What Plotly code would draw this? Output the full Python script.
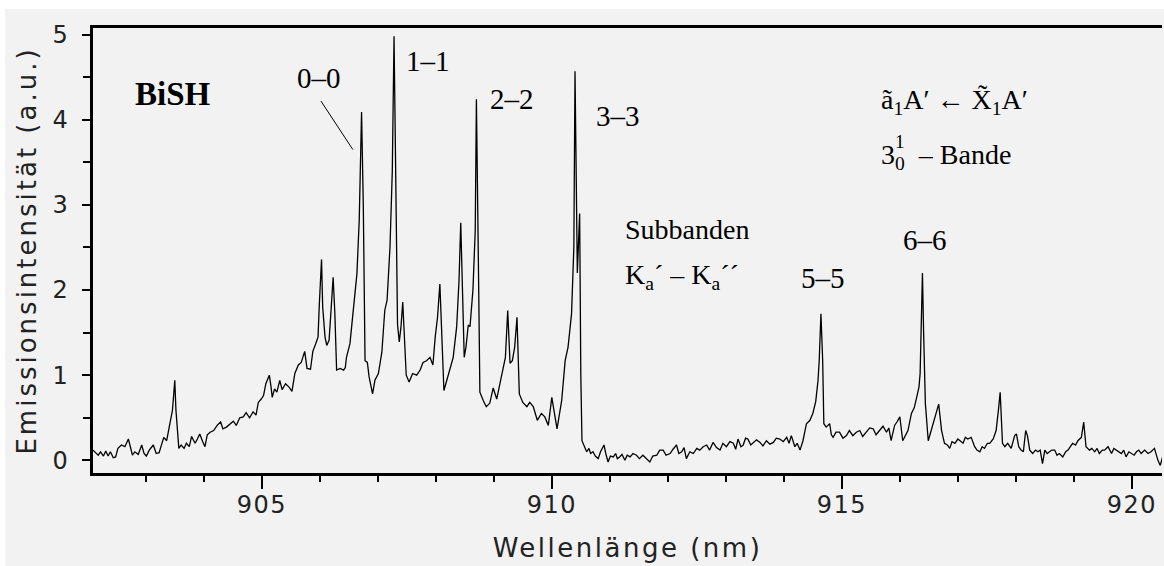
import plotly.graph_objects as go

# wavelength (nm) and emission intensity (a.u.)
wl_blue = [
    902.09, 902.14, 902.18, 902.22, 902.27, 902.31, 902.35, 902.39, 902.44, 902.48,
    902.52, 902.58, 902.64, 902.70, 902.74, 902.77, 902.81, 902.87, 902.93, 902.97,
    903.01, 903.06, 903.13, 903.18, 903.23, 903.27, 903.31, 903.36, 903.41, 903.46,
    903.48, 903.50, 903.52, 903.55, 903.57, 903.61, 903.66, 903.70, 903.75, 903.79,
    903.85, 903.89, 903.93, 903.98, 904.02, 904.06, 904.11, 904.17, 904.23, 904.29,
    904.33, 904.39, 904.45, 904.51, 904.56, 904.62, 904.68, 904.73, 904.79, 904.85,
    904.90, 904.94, 904.99, 905.03, 905.07, 905.13, 905.16, 905.18, 905.22, 905.26,
    905.31, 905.35, 905.41, 905.47, 905.52, 905.57, 905.63, 905.68, 905.74, 905.78,
    905.84, 905.88, 905.93,
]
int_blue = [
    0.12, 0.08, 0.06, 0.10, 0.05, 0.11, 0.05, 0.10, 0.03, 0.04,
    0.14, 0.18, 0.16, 0.25, 0.12, 0.06, 0.10, 0.07, 0.18, 0.08,
    0.05, 0.12, 0.18, 0.08, 0.09, 0.18, 0.27, 0.23, 0.39, 0.59,
    0.76, 0.94, 0.59, 0.23, 0.14, 0.18, 0.14, 0.20, 0.16, 0.28,
    0.20, 0.25, 0.31, 0.22, 0.16, 0.30, 0.33, 0.35, 0.41, 0.45,
    0.37, 0.39, 0.43, 0.46, 0.41, 0.50, 0.51, 0.56, 0.50, 0.57,
    0.53, 0.68, 0.72, 0.76, 0.90, 1.00, 0.86, 0.74, 0.84, 0.80,
    0.94, 0.83, 0.90, 0.86, 0.81, 1.02, 1.12, 1.15, 1.28, 1.08,
    1.07, 1.28, 1.37,
]

wl_bands = [
    905.97, 905.99, 906.03, 906.05, 906.09, 906.12, 906.16, 906.19, 906.23, 906.26,
    906.29, 906.35, 906.41, 906.44, 906.46, 906.52, 906.58, 906.64, 906.68, 906.71,
    906.72, 906.75, 906.78, 906.82, 906.85, 906.91, 906.95, 907.01, 907.07, 907.12,
    907.16, 907.21, 907.25, 907.28, 907.31, 907.34, 907.37, 907.40, 907.43, 907.46,
    907.49, 907.54, 907.60, 907.67, 907.73, 907.78, 907.84, 907.90, 907.95, 907.99,
    908.03, 908.07, 908.11, 908.14, 908.19, 908.24, 908.30, 908.36, 908.40, 908.43,
    908.46, 908.49, 908.52, 908.56, 908.59, 908.64, 908.68, 908.70, 908.74, 908.76,
    908.82, 908.87, 908.93, 908.99, 909.05, 909.11, 909.16, 909.20, 909.24, 909.28,
    909.32, 909.36, 909.40, 909.44, 909.50, 909.57, 909.62, 909.68, 909.75, 909.82,
    909.88, 909.94, 910.00, 910.04, 910.09, 910.17, 910.23, 910.28, 910.34, 910.38,
    910.40, 910.44, 910.48, 910.50, 910.52,
]
int_bands = [
    1.45, 1.80, 2.36, 1.80, 1.45, 1.35, 1.41, 1.72, 2.15, 1.72,
    1.06, 1.08, 1.06, 1.09, 1.21, 1.37, 1.74, 2.19, 2.82, 3.60,
    4.09, 3.00, 1.17, 1.15, 0.98, 0.78, 0.94, 1.02, 1.27, 1.76,
    1.88, 2.50, 3.40, 4.98, 3.20, 1.60, 1.39, 1.57, 1.86, 1.41,
    1.00, 0.92, 1.02, 1.00, 1.06, 1.15, 1.17, 1.21, 1.12, 1.45,
    1.68, 2.07, 1.33, 0.82, 0.94, 1.06, 1.21, 1.57, 2.11, 2.79,
    1.92, 1.21, 1.33, 1.59, 1.57, 2.00, 2.70, 4.24, 2.00, 0.80,
    0.70, 0.63, 0.67, 0.85, 0.72, 0.92, 1.08, 1.21, 1.76, 1.14,
    1.17, 1.33, 1.68, 0.78, 0.68, 0.63, 0.68, 0.63, 0.47, 0.55,
    0.51, 0.41, 0.74, 0.59, 0.37, 0.70, 1.17, 1.33, 1.72, 2.50,
    4.57, 2.20, 2.90, 1.00, 0.23,
]

wl_gap = [
    910.60, 910.64, 910.67, 910.71, 910.75, 910.80, 910.84, 910.90, 910.93, 910.97,
    911.01, 911.06, 911.10, 911.13, 911.17, 911.21, 911.26, 911.30, 911.35, 911.40,
    911.46, 911.51, 911.57, 911.62, 911.69, 911.74, 911.81, 911.86, 911.92, 911.97,
    912.04, 912.09, 912.15, 912.19, 912.24, 912.28, 912.32, 912.38, 912.44, 912.50,
    912.55, 912.61, 912.67, 912.72, 912.78, 912.84, 912.90, 912.95, 913.01, 913.07,
    913.13, 913.17, 913.21, 913.26, 913.30, 913.34, 913.38, 913.43, 913.47, 913.53,
    913.59, 913.64, 913.70, 913.76, 913.82, 913.87, 913.93, 913.99,
]
int_gap = [
    0.10, 0.14, 0.08, 0.10, 0.05, 0.02, 0.10, 0.18, 0.08, -0.02,
    0.05, 0.04, 0.08, 0.02, 0.04, 0.07, 0.00, 0.06, 0.04, 0.08,
    0.06, 0.02, 0.06, 0.03, -0.02, 0.05, 0.06, 0.12, 0.12, 0.06,
    0.08, 0.13, 0.18, 0.08, 0.10, 0.15, 0.02, 0.10, 0.08, 0.14,
    0.12, 0.16, 0.18, 0.12, 0.21, 0.15, 0.12, 0.20, 0.16, 0.22,
    0.20, 0.13, 0.25, 0.16, 0.18, 0.26, 0.25, 0.18, 0.20, 0.24,
    0.21, 0.17, 0.23, 0.19, 0.21, 0.26, 0.25, 0.22,
]

wl_red = [
    914.05, 914.09, 914.13, 914.16, 914.19, 914.23, 914.28, 914.33, 914.39, 914.45,
    914.50, 914.55, 914.59, 914.61, 914.64, 914.67, 914.69, 914.73, 914.79, 914.82,
    914.85, 914.90, 914.96, 915.02, 915.08, 915.13, 915.19, 915.25, 915.31, 915.36,
    915.42, 915.48, 915.54, 915.59, 915.65, 915.71, 915.77, 915.81, 915.85, 915.91,
    915.95, 916.00, 916.05, 916.10, 916.14, 916.20, 916.25, 916.29, 916.33, 916.35,
    916.37, 916.39, 916.41, 916.44, 916.49, 916.54, 916.60, 916.67, 916.72, 916.77,
    916.82, 916.86, 916.90, 916.95, 917.00, 917.03, 917.09, 917.13, 917.17, 917.23,
    917.29, 917.33, 917.38, 917.42, 917.46, 917.51, 917.55, 917.61, 917.66, 917.70,
    917.73, 917.77, 917.81, 917.86, 917.92, 917.98, 918.01, 918.05, 918.09, 918.13,
    918.17, 918.20, 918.24, 918.29, 918.34, 918.38, 918.42, 918.46, 918.50, 918.54,
    918.58, 918.62, 918.67, 918.71, 918.75, 918.81, 918.86, 918.90, 918.94, 918.98,
    919.03, 919.07, 919.13, 919.17, 919.21, 919.27, 919.31, 919.36, 919.40, 919.44,
    919.49, 919.53, 919.59, 919.65, 919.69, 919.73, 919.78, 919.82, 919.86, 919.90,
    919.95, 919.99, 920.04, 920.08, 920.12, 920.16, 920.22, 920.28, 920.33, 920.39,
    920.45, 920.49, 920.53,
]
int_red = [
    0.27, 0.20, 0.29, 0.22, 0.16, 0.20, 0.12, 0.23, 0.43, 0.47,
    0.55, 0.69, 0.94, 1.17, 1.72, 1.17, 0.43, 0.39, 0.43, 0.30,
    0.27, 0.33, 0.33, 0.26, 0.29, 0.35, 0.29, 0.33, 0.35, 0.28,
    0.33, 0.38, 0.37, 0.30, 0.35, 0.40, 0.33, 0.38, 0.23, 0.41,
    0.45, 0.51, 0.23, 0.30, 0.35, 0.55, 0.62, 0.74, 0.86, 1.02,
    1.50, 2.20, 1.50, 0.67, 0.23, 0.35, 0.47, 0.66, 0.35, 0.20,
    0.18, 0.14, 0.22, 0.20, 0.25, 0.23, 0.20, 0.27, 0.25, 0.27,
    0.16, 0.12, 0.10, 0.16, 0.14, 0.20, 0.20, 0.25, 0.35, 0.59,
    0.80, 0.20, 0.16, 0.20, 0.14, 0.29, 0.31, 0.16, 0.12, 0.10,
    0.35, 0.29, 0.12, 0.08, 0.12, 0.10, 0.12, -0.04, 0.12, 0.08,
    0.10, 0.12, 0.12, 0.06, 0.08, 0.04, 0.10, 0.12, 0.16, 0.20,
    0.18, 0.23, 0.27, 0.45, 0.16, 0.12, 0.14, 0.10, 0.14, 0.08,
    0.12, 0.12, 0.16, 0.08, 0.14, 0.12, 0.10, 0.08, 0.12, 0.04,
    0.10, 0.08, 0.06, 0.10, 0.12, 0.08, 0.12, 0.08, 0.10, 0.14,
    0.00, -0.06, 0.04,
]

wavelength = wl_blue + wl_bands + wl_gap + wl_red
intensity = int_blue + int_bands + int_gap + int_red

band_labels = ["0–0", "1–1", "2–2", "3–3", "5–5", "6–6"]
band_label_x = [905.99, 907.865, 909.31, 911.14, 914.67, 916.43]
band_label_y = [4.49, 4.69, 4.24, 4.05, 2.14, 2.59]

BG = "#f2f2f2"
SERIF = "Liberation Serif, Times New Roman, serif"
SANS = "DejaVu Sans, sans-serif"

fig = go.Figure()
fig.add_trace(
    go.Scatter(
        x=wavelength,
        y=intensity,
        mode="lines",
        line={"color": "black", "width": 1.3},
        hoverinfo="skip",
        showlegend=False,
    )
)

annotations = []
for text, x, y in zip(band_labels, band_label_x, band_label_y):
    annotations.append(dict(x=x, y=y, text=text, showarrow=False,
                            font={"family": SERIF, "size": 29, "color": "black"}))

annotations += [
    dict(x=0.0744, y=0.852, xref="paper", yref="paper", xanchor="center",
         yanchor="middle", text="<b>BiSH</b>", showarrow=False,
         font={"family": SERIF, "size": 33, "color": "black"}),
    dict(x=911.22, y=2.71, xanchor="left", text="Subbanden", showarrow=False,
         font={"family": SERIF, "size": 28, "color": "black"}),
    dict(x=911.22, y=2.16, xanchor="left",
         text="K<sub>a</sub>´ – K<sub>a</sub>´´", showarrow=False,
         font={"family": SERIF, "size": 28, "color": "black"}),
    dict(x=915.64, y=4.22, xanchor="left",
         text="ã<sub>1</sub>A′ ← X̃<sub>1</sub>A′", showarrow=False,
         font={"family": SERIF, "size": 28, "color": "black"}),
    dict(x=915.64, y=3.57, xanchor="left",
         text="3<sub>0</sub>  – Bande", showarrow=False,
         font={"family": SERIF, "size": 28, "color": "black"}),
    dict(x=916.0, y=3.74, text="1", showarrow=False,
         font={"family": SERIF, "size": 19, "color": "black"}),
]

fig.update_layout(
    width=1164,
    height=566,
    margin={"l": 93, "r": 2, "t": 28, "b": 93},
    paper_bgcolor=BG,
    plot_bgcolor=BG,
    annotations=annotations,
    shapes=[
        # leader line of the 0-0 label
        dict(type="line", x0=906.02, y0=4.22, x1=906.57, y1=3.65,
             line={"color": "black", "width": 1}),
        # white strips at the top and left edge of the page
        dict(type="rect", xref="paper", yref="paper", x0=-0.09, x1=1.01,
             y0=1.0427, y1=1.07, fillcolor="white", line={"width": 0}, layer="below"),
        dict(type="rect", xref="paper", yref="paper", x0=-0.09, x1=-0.0823,
             y0=-0.22, y1=1.07, fillcolor="white", line={"width": 0}, layer="below"),
    ],
)

fig.update_xaxes(
    range=[902.09, 920.52],
    showgrid=False,
    zeroline=False,
    showline=True,
    linecolor="black",
    linewidth=3,
    mirror=True,
    ticks="outside",
    tickmode="array",
    tickvals=[905, 910, 915, 920],
    ticklen=13,
    tickwidth=2,
    tickcolor="black",
    ticklabelstandoff=-5,
    minor={"tickmode": "array", "tickvals": list(range(903, 921)),
           "ticks": "outside", "ticklen": 6, "tickwidth": 2, "tickcolor": "black"},
    tickfont={"family": SANS, "size": 24, "color": "#222"},
    title={"text": "Wellenlänge (nm)", "standoff": 22,
           "font": {"family": SANS, "size": 26, "color": "#222"}},
)
fig.update_yaxes(
    range=[-0.149, 5.078],
    showgrid=False,
    zeroline=False,
    showline=True,
    linecolor="black",
    linewidth=3,
    ticks="outside",
    tickvals=[0, 1, 2, 3, 4, 5],
    ticklen=8,
    tickwidth=2,
    tickcolor="black",
    ticklabelstandoff=8,
    minor={"tickmode": "array", "tickvals": [0.5, 1.5, 2.5, 3.5, 4.5],
           "ticks": "outside", "ticklen": 7, "tickwidth": 2, "tickcolor": "black"},
    tickfont={"family": SANS, "size": 24, "color": "#222"},
    title={"text": "Emissionsintensität (a.u.)", "standoff": 10,
           "font": {"family": SANS, "size": 26, "color": "#222"}},
)

# page without body margin; the original lettering is spaced out a little
page_js = """
document.body.style.margin = '0';
document.body.style.overflow = 'hidden';
var gd = document.getElementById('{plot_id}');
function spaceOut() {
  gd.querySelectorAll('.xtitle').forEach(function (t) { t.style.letterSpacing = '2.5px'; });
  gd.querySelectorAll('.ytitle').forEach(function (t) { t.style.letterSpacing = '3px'; });
  gd.querySelectorAll('.xtick text, .ytick text').forEach(function (t) { t.style.letterSpacing = '1.5px'; });
}
spaceOut();
gd.on('plotly_afterplot', spaceOut);
"""

fig.write_html("out.html", post_script=page_js, config={"displayModeBar": False})
